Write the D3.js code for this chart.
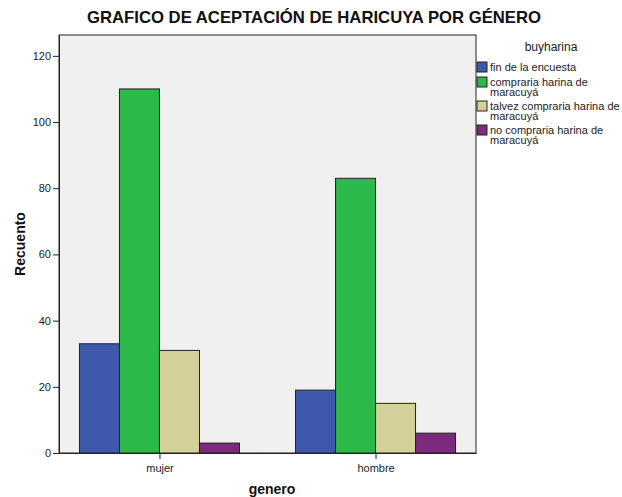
<!DOCTYPE html>
<html>
<head>
<meta charset="utf-8">
<script src="https://cdn.jsdelivr.net/npm/d3@7"></script>
<style>
  body { margin: 0; background: #fff; }
  svg { font-family: "Liberation Sans", Arial, sans-serif; }
</style>
</head>
<body>
<svg id="chart" width="622" height="497"></svg>
<script>
// data
var categories = ["mujer", "hombre"];
var seriesNames = ["fin de la encuesta", "compraria harina de maracuyá", "talvez compraria harina de maracuyá", "no compraria harina de maracuyá"];
var seriesLines = [["fin de la encuesta"], ["compraria harina de", "maracuyá"], ["talvez compraria harina de", "maracuyá"], ["no compraria harina de", "maracuyá"]];
var mujerValues = [33, 110, 31, 3];
var hombreValues = [19, 83, 15, 6];
var yTicks = [0, 20, 40, 60, 80, 100, 120];
var colors = ["#3E58AC", "#2DB84A", "#D4D09A", "#7B2A7D"];

var values = [mujerValues, hombreValues];
var svg = d3.select("#chart");
var m = {left: 59, right: 476, top: 35, bottom: 453};

var x = d3.scalePoint().domain(categories).range([m.left, m.right]).padding(0.465);
var sub = d3.scaleBand().domain(seriesNames).range([-80, 80]);
var y = d3.scaleLinear().domain([0, 126.3]).range([m.bottom, m.top]);

// plot background
svg.append("rect").attr("x", m.left).attr("y", m.top)
  .attr("width", m.right - m.left).attr("height", m.bottom - m.top)
  .attr("fill", "#F0F0F0").attr("stroke", "#222").attr("stroke-width", 1);

// bars
var groups = svg.selectAll("g.grp").data(categories).enter().append("g")
  .attr("class", "grp")
  .attr("transform", function(d) { return "translate(" + x(d) + ",0)"; });
groups.selectAll("rect").data(function(d, i) {
  return values[i].map(function(v, j) { return {name: seriesNames[j], v: v, c: colors[j]}; });
}).enter().append("rect")
  .attr("x", function(d) { return sub(d.name); })
  .attr("width", sub.bandwidth())
  .attr("y", function(d) { return y(d.v); })
  .attr("height", function(d) { return y(0) - y(d.v); })
  .attr("fill", function(d) { return d.c; })
  .attr("stroke", "#222").attr("stroke-width", 1);

// axes
var yAxis = svg.append("g").attr("transform", "translate(" + m.left + ",0)")
  .call(d3.axisLeft(y).tickValues(yTicks).tickSize(6).tickSizeOuter(0).tickPadding(2));
yAxis.select(".domain").attr("stroke", "#222");
yAxis.selectAll("line").attr("stroke", "#222");
yAxis.selectAll("text").attr("font-size", 11).attr("fill", "#222")
  .attr("font-family", "Liberation Sans, Arial, sans-serif");

var xAxis = svg.append("g").attr("transform", "translate(0," + m.bottom + ")")
  .call(d3.axisBottom(x).tickSize(6).tickSizeOuter(0).tickPadding(5));
xAxis.select(".domain").attr("stroke", "#222");
xAxis.selectAll("line").attr("stroke", "#222");
xAxis.selectAll("text").attr("font-size", 11).attr("fill", "#222")
  .attr("font-family", "Liberation Sans, Arial, sans-serif");

// titles
svg.append("text").attr("x", 314).attr("y", 23).attr("text-anchor", "middle")
  .attr("font-size", 16.7).attr("font-weight", "bold").attr("fill", "#111")
  .text("GRAFICO DE ACEPTACIÓN DE HARICUYA POR GÉNERO");
svg.append("text").attr("transform", "translate(25,244) rotate(-90)")
  .attr("text-anchor", "middle").attr("font-size", 14).attr("font-weight", "bold").attr("fill", "#111")
  .text("Recuento");
svg.append("text").attr("x", 272).attr("y", 494).attr("text-anchor", "middle")
  .attr("font-size", 14).attr("font-weight", "bold").attr("fill", "#111")
  .text("genero");

// legend
svg.append("text").attr("x", 551).attr("y", 51).attr("text-anchor", "middle")
  .attr("font-size", 12).attr("fill", "#222").text("buyharina");
var legendY = [62, 77, 101, 125];
var leg = svg.selectAll("g.leg").data(seriesNames).enter().append("g")
  .attr("class", "leg")
  .attr("transform", function(d, i) { return "translate(477," + legendY[i] + ")"; });
leg.append("rect").attr("width", 10).attr("height", 10)
  .attr("fill", function(d, i) { return colors[i]; })
  .attr("stroke", "#222").attr("stroke-width", 1);
leg.each(function(d, i) {
  var t = d3.select(this).append("text").attr("x", 13).attr("y", 8.5)
    .attr("font-size", 11).attr("fill", "#222");
  seriesLines[i].forEach(function(line, k) {
    t.append("tspan").attr("x", 13).attr("dy", k === 0 ? 0 : 10).text(line);
  });
});
</script>
</body>
</html>
